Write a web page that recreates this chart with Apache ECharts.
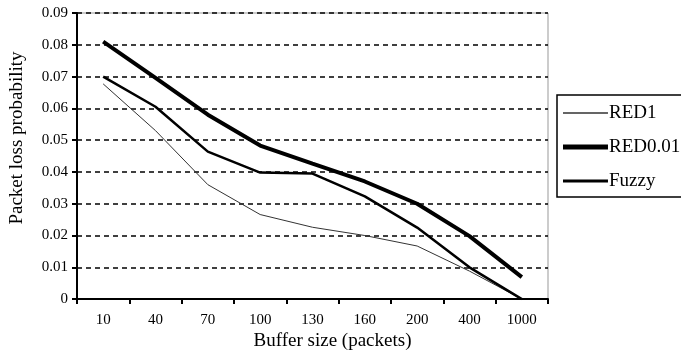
<!DOCTYPE html>
<html><head><meta charset="utf-8">
<script src="https://cdn.jsdelivr.net/npm/echarts@6/dist/echarts.min.js"></script>
<style>html,body{margin:0;padding:0;background:#fff}#c{width:681px;height:356px}</style>
</head><body><div id="c"></div>
<script>
var categories = ['10','40','70','100','130','160','200','400','1000'];
var red1 = [0.0677, 0.053, 0.036, 0.0266, 0.0226, 0.020, 0.0167, 0.0088, 0.0];
var red001 = [0.081, 0.0696, 0.058, 0.0483, 0.0426, 0.037, 0.030, 0.0198, 0.0069];
var fuzzy = [0.070, 0.0605, 0.0464, 0.0398, 0.0395, 0.0323, 0.0225, 0.0100, 0.0];
var yTicks = {min: 0, max: 0.09, step: 0.01};

var font = '"Liberation Serif", "Times New Roman", serif';
var chart = echarts.init(document.getElementById('c'));
function mk(name, data, w, color) {
  return {name: name, type: 'line', data: data, symbol: 'none', animation: false,
    lineStyle: {width: w, color: color}, itemStyle: {color: color}, z: w > 3 ? 4 : 3};
}
function barIcon(h) {
  var y0 = (22 - h) / 2;
  return 'path://M0,0h0.01v0.01h-0.01z M0,22h0.01v0.01h-0.01z M0,' + y0 + 'h45v' + h + 'h-45z';
}
chart.setOption({
  animation: false,
  backgroundColor: '#fff',
  grid: {left: 77, right: 133, top: 13, bottom: 56, show: true, borderColor: '#999', borderWidth: 1},
  legend: {
    orient: 'vertical', left: 557, top: 95, padding: [7, 40, 5, 6], itemGap: 12,
    itemWidth: 45, itemHeight: 22, borderColor: '#000', borderWidth: 1.5,
    textStyle: {fontFamily: font, fontSize: 19, color: '#000', padding: [0,0,0,-4]},
    data: [
      {name: 'RED1', icon: barIcon(1.5)},
      {name: 'RED0.01', icon: barIcon(5)},
      {name: 'Fuzzy', icon: barIcon(3)}
    ]
  },
  xAxis: {
    type: 'category', data: categories, boundaryGap: true,
    name: 'Buffer size (packets)', nameLocation: 'middle', nameGap: 31,
    nameTextStyle: {fontFamily: font, fontSize: 19, color: '#000', padding: [0, 0, 0, 40]},
    axisLine: {lineStyle: {color: '#000', width: 2}},
    axisTick: {show: true, length: 5, lineStyle: {color: '#000', width: 2}},
    axisLabel: {fontFamily: font, fontSize: 15, color: '#000', margin: 13},
    splitLine: {show: false}
  },
  yAxis: {
    type: 'value', min: yTicks.min, max: yTicks.max, interval: yTicks.step,
    name: 'Packet loss probability', nameLocation: 'middle', nameGap: 50,
    nameTextStyle: {fontFamily: font, fontSize: 19, color: '#000', padding: [0, 0, 0, 36]},
    axisLine: {show: true, lineStyle: {color: '#000', width: 2}},
    axisTick: {show: true, length: 5, lineStyle: {color: '#000', width: 2}},
    axisLabel: {fontFamily: font, fontSize: 15, color: '#000', margin: 9,
      formatter: function (v) { return v === 0 ? '0' : v.toFixed(2); }},
    splitLine: {show: true, lineStyle: {color: '#000', width: 1.5, type: [5, 4]}}
  },
  series: [
    mk('RED1', red1, 1, '#333'),
    mk('RED0.01', red001, 4, '#000'),
    mk('Fuzzy', fuzzy, 2.5, '#000')
  ]
});
</script></body></html>
